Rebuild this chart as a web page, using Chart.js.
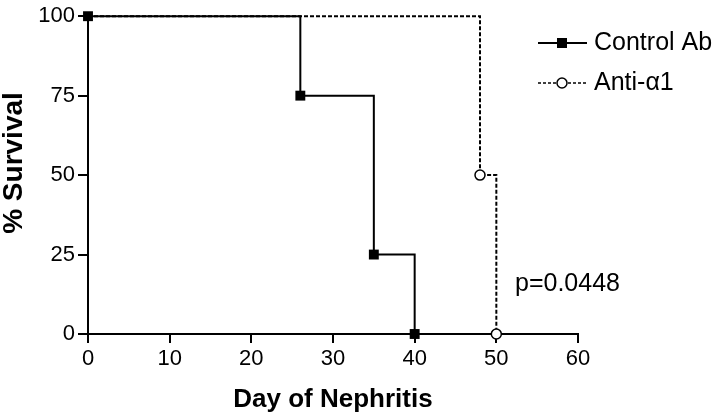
<!DOCTYPE html>
<html>
<head>
<meta charset="utf-8">
<script src="https://cdn.jsdelivr.net/npm/chart.js@4/dist/chart.umd.min.js"></script>
<style>
  html, body { margin: 0; padding: 0; background: #fff; }
  #wrap { width: 720px; height: 416px; }
</style>
</head>
<body>
<div id="wrap"><canvas id="survivalChart" width="720" height="416"></canvas></div>
<script>
// Kaplan-Meier data
const controlDays = [0, 26, 35, 40];
const controlSurvival = [100, 75, 25, 0];
const antiDays = [0, 48, 50];
const antiSurvival = [100, 50, 0];
const xTicks = [0, 10, 20, 30, 40, 50, 60];
const yTicks = [0, 25, 50, 75, 100];
const pValueText = "p=0.0448";
const yTitle = "% Survival";

const FONT = "'Liberation Sans', Arial, Helvetica, sans-serif";

function toPoints(xs, ys) {
    return xs.map((x, i) => ({ x: x, y: ys[i] }));
}

// legend, p-value and y title drawn on top
const annotations = {
    id: "annotations",
    afterDraw(chart) {
        const ctx = chart.ctx;
        ctx.save();
        ctx.strokeStyle = "#000";
        ctx.fillStyle = "#000";

        // Control Ab entry
        ctx.lineWidth = 2;
        ctx.beginPath();
        ctx.moveTo(538, 43);
        ctx.lineTo(587, 43);
        ctx.stroke();
        ctx.fillRect(557, 38, 10, 10);

        // Anti-a1 entry
        ctx.lineWidth = 1.5;
        ctx.setLineDash([3, 2]);
        ctx.beginPath();
        ctx.moveTo(538, 83);
        ctx.lineTo(587, 83);
        ctx.stroke();
        ctx.setLineDash([]);
        ctx.beginPath();
        ctx.arc(562, 83, 5, 0, Math.PI * 2);
        ctx.fillStyle = "#fff";
        ctx.fill();
        ctx.stroke();

        ctx.fillStyle = "#000";
        ctx.font = "25px " + FONT;
        ctx.textBaseline = "middle";
        ctx.textAlign = "left";
        ctx.fillText("Control Ab", 594, 43);
        ctx.fillText("Anti-\u03B11", 594, 83);

        ctx.textBaseline = "alphabetic";
        ctx.fillText(pValueText, 515, 291);

        // y axis title
        ctx.translate(14, 163);
        ctx.rotate(-Math.PI / 2);
        ctx.font = "bold 28px " + FONT;
        ctx.textAlign = "center";
        ctx.textBaseline = "middle";
        ctx.fillText(yTitle, 0, 0);
        ctx.restore();
    }
};

const ctx = document.getElementById("survivalChart").getContext("2d");

new Chart(ctx, {
    type: "line",
    data: {
        datasets: [
            {
                label: "Control Ab",
                data: toPoints(controlDays, controlSurvival),
                stepped: true,
                clip: false,
                borderColor: "#000",
                borderWidth: 2,
                pointStyle: "rect",
                pointRadius: 7,
                pointBackgroundColor: "#000",
                pointBorderColor: "#000",
                pointBorderWidth: 0,
                fill: false
            },
            {
                label: "Anti-\u03B11",
                data: toPoints(antiDays, antiSurvival),
                stepped: true,
                clip: false,
                borderColor: "#000",
                borderWidth: 2,
                borderDash: [4, 2],
                pointStyle: "circle",
                pointRadius: [0, 5, 5],
                pointBackgroundColor: "#fff",
                pointBorderColor: "#000",
                pointBorderWidth: 1.5,
                fill: false
            }
        ]
    },
    options: {
        responsive: false,
        animation: false,
        devicePixelRatio: 1,
        layout: { padding: { top: 12, right: 142, left: 0, bottom: 0 } },
        plugins: {
            legend: { display: false },
            tooltip: { enabled: false }
        },
        scales: {
            x: {
                type: "linear",
                min: 0,
                max: 60,
                afterFit: s => { s.height = 82; },
                afterBuildTicks: s => { s.ticks = xTicks.map(v => ({ value: v })); },
                grid: { drawOnChartArea: false, color: "#000", lineWidth: 2, tickLength: 9 },
                border: { color: "#000", width: 2 },
                ticks: { color: "#000", padding: 3, maxRotation: 0, font: { family: FONT, size: 22 } },
                title: {
                    display: true,
                    text: "Day of Nephritis",
                    color: "#000",
                    padding: { top: 0, bottom: 1 },
                    font: { family: FONT, size: 26, weight: "bold" }
                }
            },
            y: {
                min: 0,
                max: 100,
                afterFit: s => { s.width = 88; },
                afterBuildTicks: s => { s.ticks = yTicks.map(v => ({ value: v })); },
                grid: { drawOnChartArea: false, color: "#000", lineWidth: 2, tickLength: 10 },
                border: { color: "#000", width: 2 },
                ticks: { color: "#000", padding: 3, font: { family: FONT, size: 22 } },
                title: { display: false }
            }
        }
    },
    plugins: [annotations]
});
</script>
</body>
</html>
